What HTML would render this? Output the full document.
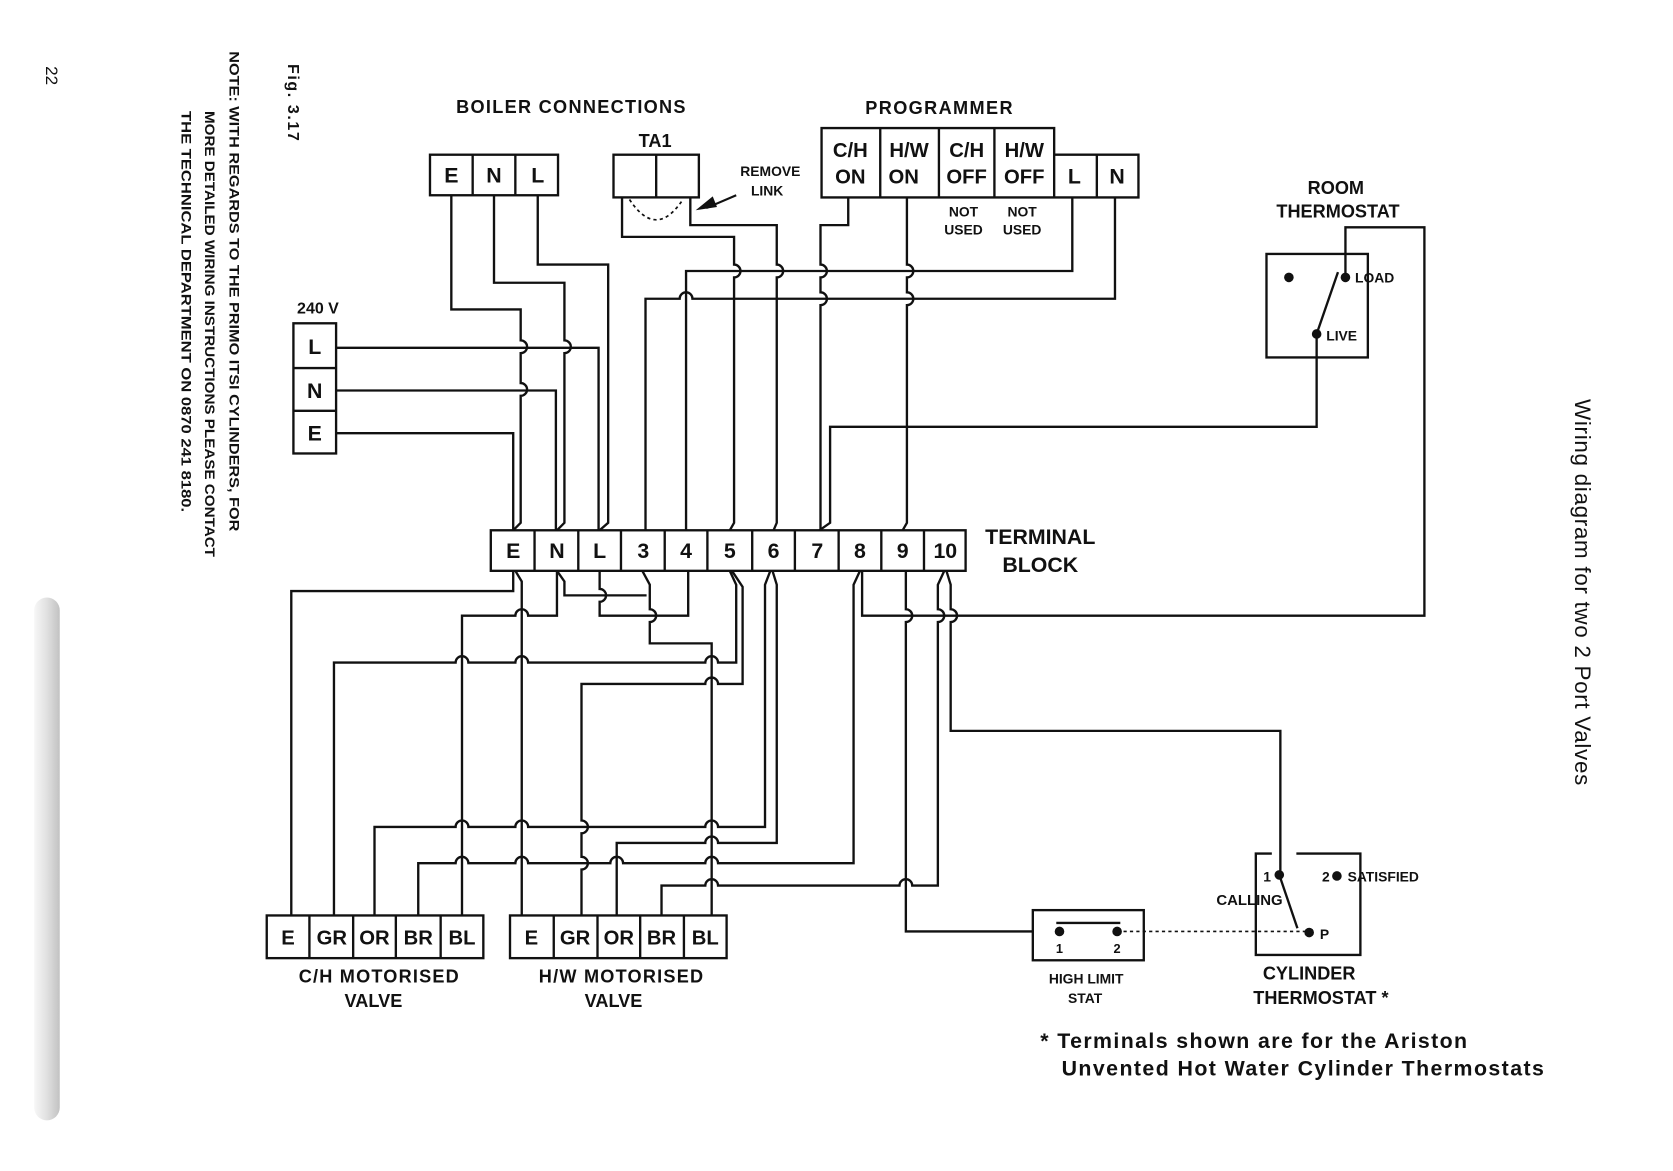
<!DOCTYPE html>
<html><head><meta charset="utf-8"><style>
html,body{margin:0;padding:0;background:#fff;}
svg{display:block;}
text{font-family:"Liberation Sans",sans-serif;font-weight:bold;fill:#111;}
text.n{font-weight:normal;}
</style></head><body>
<svg width="1673" height="1171" viewBox="0 0 1568 1097.5" preserveAspectRatio="none" xmlns="http://www.w3.org/2000/svg">
<defs><linearGradient id="g" x1="0" x2="1"><stop offset="0" stop-color="#f2f2f2"/><stop offset="0.5" stop-color="#ccc"/><stop offset="1" stop-color="#999"/></linearGradient></defs>
<rect x="32" y="560" width="24" height="490" rx="12" fill="url(#g)" opacity="0.6"/>

<!-- rotated texts -->
<text class="n" transform="translate(43,62) rotate(90)" font-size="16">22</text>
<text transform="translate(270,60) rotate(90)" font-size="15" textLength="72">Fig. 3.17</text>
<text transform="translate(215,48) rotate(90)" font-size="13" textLength="450" lengthAdjust="spacingAndGlyphs">NOTE:  WITH REGARDS TO THE PRIMO ITSI CYLINDERS, FOR</text>
<text transform="translate(192,104) rotate(90)" font-size="13" textLength="418" lengthAdjust="spacingAndGlyphs">MORE DETAILED WIRING INSTRUCTIONS PLEASE CONTACT</text>
<text transform="translate(170,104) rotate(90)" font-size="13" textLength="376" lengthAdjust="spacingAndGlyphs">THE TECHNICAL DEPARTMENT ON 0870 241 8180.</text>
<text class="n" transform="translate(1476,374) rotate(90)" font-size="21" textLength="362">Wiring diagram for two 2 Port Valves</text>

<g fill="none" stroke="#111" stroke-width="2.2">
<rect x="403" y="145" width="120" height="38"/><path d="M443 145V183M483 145V183"/>
<rect x="575" y="145" width="80" height="40"/><path d="M615 145V185"/>
<path d="M590 187 Q615 225 640 187" stroke-dasharray="3 3" stroke-width="1.6"/>
<path d="M690 183 L662 195" stroke-width="2"/>
<path d="M770 120H988V145H1067V185H770Z M825 120V185 M880 120V185 M932 120V185 M988 145V185 M1028 145V185"/>
<rect x="275" y="303" width="40" height="122"/><path d="M275 345H315M275 385H315"/>
<rect x="460" y="497" width="445" height="38"/>
<path d="M501 497V535M542 497V535M582 497V535M623 497V535M663 497V535M705 497V535M745 497V535M786 497V535M826 497V535M866 497V535"/>
<rect x="1187" y="238" width="95" height="97"/>
<path d="M1234 313L1254 255"/>
<path d="M1192 800H1177V895H1275V800H1215"/>
<path d="M1199 820L1216 870"/>
<rect x="968" y="853" width="104" height="47"/><path d="M990 865H1050"/>
<path d="M1047 873H1227" stroke-dasharray="3 3" stroke-width="1.5"/>
<rect x="250" y="858" width="203" height="40"/><path d="M290 858V898M331 858V898M371 858V898M413 858V898"/>
<rect x="478" y="858" width="203" height="40"/><path d="M519 858V898M560 858V898M600 858V898M641 858V898"/>

<path d="M423 183V290H488V319a6 6 0 0 1 0 12V359a6 6 0 0 1 0 12V490L481 497"/>
<path d="M463 183V265H529V319a6 6 0 0 1 0 12V490L522 497"/>
<path d="M504 183V248H570V490L562 497"/>
<path d="M315 326H561V497"/>
<path d="M315 366H521V497"/>
<path d="M315 406H481V497"/>
<path d="M583 185V222H688V248a6 6 0 0 1 0 12V490L684 497"/>
<path d="M647 185V211H728V248a6 6 0 0 1 0 12V490L725 497"/>
<path d="M795 185V211H769V248a6 6 0 0 1 0 12V274a6 6 0 0 1 0 12V497"/>
<path d="M850 185V248a6 6 0 0 1 0 12V274a6 6 0 0 1 0 12V490L846 497"/>
<path d="M1005 185V254H643V497"/>
<path d="M1045 185V280H649a6 6 0 0 0 -12 0H605V497"/>
<path d="M1234 313V400H778V490L768 497"/>
<path d="M1261 260V213H1335V577H808V535"/>

<path d="M481 535V554H273V858"/>
<path d="M483 535L489 545V858"/>
<path d="M522 535L529 545V558H606"/>
<path d="M522 535V577H495a6 6 0 0 0 -12 0H433V858"/>
<path d="M562 535V552a6 6 0 0 1 0 12V577H645V535"/>
<path d="M602 535L609 548V571a6 6 0 0 1 0 12V603H667V858"/>
<path d="M684 535L690 548V621H673a6 6 0 0 0 -12 0H495a6 6 0 0 0 -12 0H439a6 6 0 0 0 -12 0H313V858"/>
<path d="M686 535L696 550V641H673a6 6 0 0 0 -12 0H545V769a6 6 0 0 1 0 12V803a6 6 0 0 1 0 12V858"/>
<path d="M722 535L717 548V775H673a6 6 0 0 0 -12 0H495a6 6 0 0 0 -12 0H439a6 6 0 0 0 -12 0H351V858"/>
<path d="M724 535L728 548V790H673a6 6 0 0 0 -12 0H578V858"/>
<path d="M806 535L800 548V809H673a6 6 0 0 0 -12 0H584a6 6 0 0 0 -12 0H495a6 6 0 0 0 -12 0H439a6 6 0 0 0 -12 0H392V858"/>
<path d="M885 535L879 548V571a6 6 0 0 1 0 12V830H855a6 6 0 0 0 -12 0H673a6 6 0 0 0 -12 0H620V858"/>
<path d="M849 535V571a6 6 0 0 1 0 12V873H968"/>
<path d="M887 535L891 548V571a6 6 0 0 1 0 12V685H1200V820"/>
</g>
<polygon points="652,197 668,184 672,194" fill="#111"/>
<g fill="#111">
<circle cx="1208" cy="260" r="4.5"/><circle cx="1261" cy="260" r="4.5"/><circle cx="1234" cy="313" r="4.5"/>
<circle cx="1199" cy="820" r="4.5"/><circle cx="1253" cy="821" r="4.5"/><circle cx="1227" cy="874" r="4.5"/>
<circle cx="993" cy="873" r="4.5"/><circle cx="1047" cy="873" r="4.5"/>
</g>

<g font-size="17" text-anchor="middle">
<text x="535" y="106" textLength="215">BOILER CONNECTIONS</text>
<text x="880" y="107" textLength="138">PROGRAMMER</text>
<text x="614" y="138">TA1</text>
<text x="423" y="171" font-size="20">E</text><text x="463" y="171" font-size="20">N</text><text x="504" y="171" font-size="20">L</text>
<text x="797" y="147" font-size="19">C/H</text><text x="797" y="172" font-size="19">ON</text>
<text x="852" y="147" font-size="19">H/W</text><text x="847" y="172" font-size="19">ON</text>
<text x="906" y="147" font-size="19">C/H</text><text x="906" y="172" font-size="19">OFF</text>
<text x="960" y="147" font-size="19">H/W</text><text x="960" y="172" font-size="19">OFF</text>
<text x="1007" y="172" font-size="20">L</text><text x="1047" y="172" font-size="20">N</text>
<text x="903" y="203" font-size="13">NOT</text><text x="903" y="220" font-size="13">USED</text>
<text x="958" y="203" font-size="13">NOT</text><text x="958" y="220" font-size="13">USED</text>
<text x="722" y="165" font-size="13">REMOVE</text><text x="719" y="183" font-size="13">LINK</text>
<text x="298" y="294" font-size="15">240 V</text>
<text x="295" y="332" font-size="20">L</text><text x="295" y="373" font-size="20">N</text><text x="295" y="413" font-size="20">E</text>
<text x="1252" y="182" font-size="17">ROOM</text><text x="1254" y="204" font-size="17">THERMOSTAT</text>
<text x="975" y="510" font-size="20">TERMINAL</text><text x="975" y="536" font-size="20">BLOCK</text>
<g font-size="20"><text x="481" y="523">E</text><text x="522" y="523">N</text><text x="562" y="523">L</text><text x="603" y="523">3</text><text x="643" y="523">4</text><text x="684" y="523">5</text><text x="725" y="523">6</text><text x="766" y="523">7</text><text x="806" y="523">8</text><text x="846" y="523">9</text><text x="886" y="523">10</text></g>
<g font-size="19"><text x="270" y="885">E</text><text x="311" y="885">GR</text><text x="351" y="885">OR</text><text x="392" y="885">BR</text><text x="433" y="885">BL</text>
<text x="498" y="885">E</text><text x="539" y="885">GR</text><text x="580" y="885">OR</text><text x="620" y="885">BR</text><text x="661" y="885">BL</text></g>
<text x="355" y="921" textLength="150">C/H MOTORISED</text><text x="350" y="944">VALVE</text>
<text x="582" y="921" textLength="154">H/W MOTORISED</text><text x="575" y="944">VALVE</text>
<text x="1018" y="922" font-size="13">HIGH LIMIT</text><text x="1017" y="940" font-size="13">STAT</text>
<text x="993" y="893" font-size="12">1</text><text x="1047" y="893" font-size="12">2</text>
<text x="1227" y="918">CYLINDER</text><text x="1238" y="941">THERMOSTAT *</text>
</g>
<g font-size="13">
<text x="1270" y="265">LOAD</text><text x="1243" y="319">LIVE</text>
<text x="1184" y="826">1</text><text x="1239" y="826">2</text><text x="1263" y="826">SATISFIED</text>
<text x="1140" y="848" font-size="14">CALLING</text><text x="1237" y="880">P</text>
</g>
<text x="975" y="982" font-size="20" textLength="400">* Terminals shown are for the Ariston</text>
<text x="995" y="1008" font-size="20" textLength="452">Unvented Hot Water Cylinder Thermostats</text>
</svg>
</body></html>
